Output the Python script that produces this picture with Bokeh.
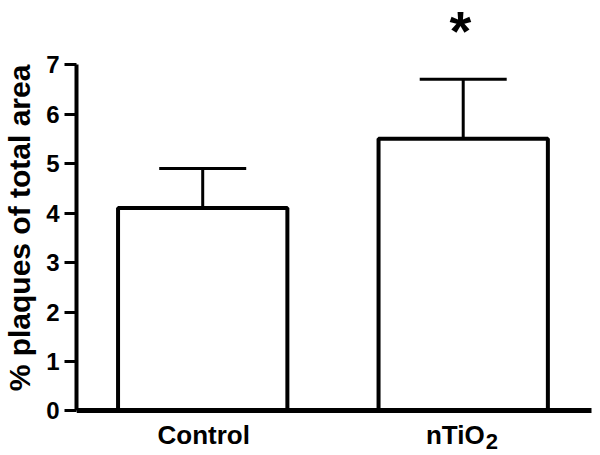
from bokeh.plotting import figure
from bokeh.models import Range1d, FixedTicker
from bokeh.core.properties import value
from bokeh.embed import file_html
from bokeh.resources import INLINE

groups = ["Control", "nTiO"]
group_sub = ["", "2"]
xpos = [1, 2]
means = [4.1, 5.5]
sems = [0.8, 1.2]
y_ticks = [0, 1, 2, 3, 4, 5, 6, 7]
star_text = ["*"]
star_x = [1.989]
star_y = [7.677]

FONT = "Liberation Sans"

p = figure(frame_width=526, frame_height=455, output_backend="svg", toolbar_location=None,
           x_range=Range1d(0.5155, 2.5347), y_range=Range1d(-0.899, 8.293),
           min_border_left=74, min_border_right=0, min_border_top=0, min_border_bottom=0)
p.outline_line_color = None
p.grid.visible = False
p.background_fill_color = "white"
p.border_fill_color = "white"

tops = [m + s for m, s in zip(means, sems)]
cap_half = 0.167
p.segment(x0=xpos, y0=means, x1=xpos, y1=tops, line_color="black", line_width=3)
p.segment(x0=[x - cap_half for x in xpos], y0=tops, x1=[x + cap_half for x in xpos], y1=tops,
          line_color="black", line_width=3)
p.vbar(x=xpos, top=means, bottom=0, width=0.65, fill_color="white",
       line_color="black", line_width=4)

p.text(x=star_x, y=star_y, text=star_text, text_align="center", text_baseline="alphabetic",
       text_font=value(FONT), text_font_style="bold", text_font_size="56px", text_color="black")

# category labels under the x axis line
p.text(x=[1.004, 2.0825], y=[-0.475, -0.475], text=groups,
       text_align=["center", "right"], text_baseline="middle",
       text_font=value(FONT), text_font_style="bold", text_font_size="26px", text_color="black")
p.text(x=[2.0865], y=[-0.624], text=[group_sub[1]], text_align="left", text_baseline="middle",
       text_font=value(FONT), text_font_style="bold", text_font_size="22px", text_color="black")

# y axis
ya = p.yaxis[0]
ya.ticker = FixedTicker(ticks=y_ticks)
ya.bounds = (0, 7)
ya.axis_line_width = 4
ya.axis_line_color = "black"
ya.major_tick_line_width = 3
ya.major_tick_out = 12
ya.major_tick_in = 0
ya.minor_tick_line_color = None
ya.major_label_standoff = 5
ya.major_label_text_font = FONT
ya.major_label_text_font_style = "bold"
ya.major_label_text_font_size = "24px"
ya.major_label_text_color = "black"
ya.axis_label = "% plaques of total area"
ya.axis_label_text_font = FONT
ya.axis_label_text_font_style = "bold"
ya.axis_label_text_font_size = "30px"
ya.axis_label_text_color = "black"
ya.axis_label_standoff = 7

# x axis line fixed at y = 0
xa = p.xaxis[0]
xa.fixed_location = 0
xa.bounds = (0.505, 2.493)
xa.ticker = FixedTicker(ticks=[])
xa.axis_line_width = 5
xa.axis_line_color = "black"
xa.major_tick_line_color = None
xa.minor_tick_line_color = None

open("out.html", "w").write(file_html(p, INLINE))
